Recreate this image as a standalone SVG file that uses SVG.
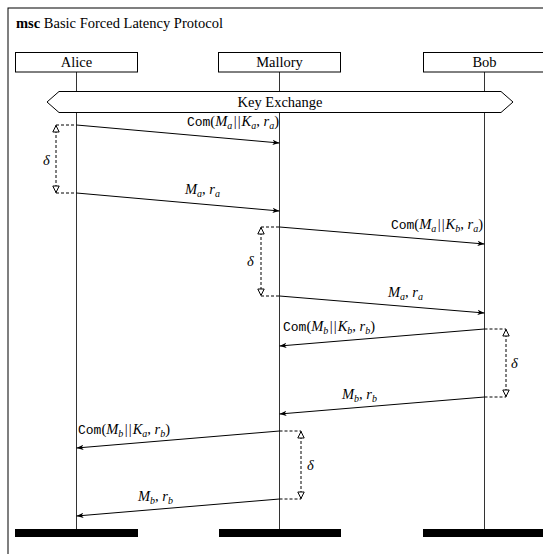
<svg xmlns="http://www.w3.org/2000/svg" width="543" height="554" viewBox="0 0 543 554">
<defs>
<style>
text{font-family:"Liberation Serif","DejaVu Serif",serif;font-size:14.5px;fill:#000}
.tt{font-family:"Liberation Mono","DejaVu Sans Mono",monospace;font-size:13px}
.it{font-style:italic}
.sub{font-style:italic;font-size:10px}
.bars{letter-spacing:1px}
.box{fill:#fff;stroke:#000;stroke-width:1}
.life{stroke:#333;stroke-width:1;fill:none}
.msg{stroke:#000;stroke-width:1;fill:none;marker-end:url(#ah)}
.dash{stroke:#000;stroke-width:1;fill:none;stroke-dasharray:3 2}
.delta{stroke:#000;stroke-width:1;fill:none;stroke-dasharray:3 2;marker-start:url(#tri);marker-end:url(#tri)}
.bar{fill:#000}
</style>
<marker id="ah" markerUnits="userSpaceOnUse" viewBox="0 -3 7 6" refX="7" refY="0" markerWidth="7" markerHeight="6" orient="auto">
<path d="M0,-2.6 L7,0 L0,2.6 L1.8,0 Z" fill="#000"/>
</marker>
<marker id="tri" markerUnits="userSpaceOnUse" viewBox="-1 -4.5 9 9" refX="7" refY="0" markerWidth="9" markerHeight="9" orient="auto-start-reverse">
<path d="M0,-3.2 L6.5,0 L0,3.2 Z" fill="#fff" stroke="#000" stroke-width="1"/>
</marker>
</defs>
<rect x="8" y="8" width="600" height="600" fill="#fff" stroke="#000" stroke-width="1"/>
<text x="16" y="28"><tspan font-weight="bold">msc</tspan> Basic Forced Latency Protocol</text>

<g id="lifelines">
<line class="life" x1="76.5" y1="72" x2="76.5" y2="529"/>
<line class="life" x1="279.5" y1="72" x2="279.5" y2="529"/>
<line class="life" x1="484.5" y1="72" x2="484.5" y2="529"/>
</g>

<g id="alice">
<rect class="box" x="15.5" y="52.5" width="122" height="19.5"/>
<text x="76.5" y="67" text-anchor="middle">Alice</text>
<rect class="bar" x="15" y="529" width="123" height="8"/>
</g>
<g id="mallory">
<rect class="box" x="218.5" y="52.5" width="122" height="19.5"/>
<text x="279.5" y="67" text-anchor="middle">Mallory</text>
<rect class="bar" x="219" y="529" width="122" height="8"/>
</g>
<g id="bob">
<rect class="box" x="423.5" y="52.5" width="122" height="19.5"/>
<text x="484.5" y="67" text-anchor="middle">Bob</text>
<rect class="bar" x="423" y="529" width="130" height="8"/>
</g>

<g id="keyexchange">
<polygon class="box" points="47,102 59,91.5 501,91.5 513,102 501,112.5 59,112.5"/>
<text x="280" y="107" text-anchor="middle">Key Exchange</text>
</g>

<g id="connectors">
<line class="msg" x1="76.5" y1="125" x2="279.5" y2="143"/>
<line class="msg" x1="76.5" y1="193" x2="279.5" y2="211"/>
<line class="msg" x1="279.5" y1="227" x2="484.5" y2="244"/>
<line class="msg" x1="279.5" y1="296" x2="484.5" y2="313"/>
<line class="msg" x1="484.5" y1="329" x2="279.5" y2="346"/>
<line class="msg" x1="484.5" y1="397" x2="279.5" y2="414"/>
<line class="msg" x1="279.5" y1="431" x2="76.5" y2="448"/>
<line class="msg" x1="279.5" y1="499" x2="76.5" y2="516"/>

<line class="dash" x1="56" y1="125" x2="76.5" y2="125"/>
<line class="dash" x1="56" y1="193" x2="76.5" y2="193"/>
<line class="delta" x1="56" y1="125" x2="56" y2="193"/>

<line class="dash" x1="261" y1="227" x2="279.5" y2="227"/>
<line class="dash" x1="261" y1="296" x2="279.5" y2="296"/>
<line class="delta" x1="261" y1="227" x2="261" y2="296"/>

<line class="dash" x1="484.5" y1="329" x2="506" y2="329"/>
<line class="dash" x1="484.5" y1="397" x2="506" y2="397"/>
<line class="delta" x1="506" y1="329" x2="506" y2="397"/>

<line class="dash" x1="279.5" y1="431" x2="301" y2="431"/>
<line class="dash" x1="279.5" y1="499" x2="301" y2="499"/>
<line class="delta" x1="301" y1="431" x2="301" y2="499"/>
</g>

<g id="labels">
<text x="279" y="126" text-anchor="end"><tspan class="tt">Com</tspan>(<tspan class="it">M</tspan><tspan class="sub" dy="3">a</tspan><tspan class="bars" dx="1.5" dy="-3">||</tspan><tspan class="it">K</tspan><tspan class="sub" dy="3">a</tspan><tspan dy="-3">, </tspan><tspan class="it">r</tspan><tspan class="sub" dy="3">a</tspan><tspan dy="-3">)</tspan></text>
<text x="185" y="194"><tspan class="it">M</tspan><tspan class="sub" dy="3">a</tspan><tspan dy="-3">, </tspan><tspan class="it">r</tspan><tspan class="sub" dy="3">a</tspan></text>
<text x="483" y="229" text-anchor="end"><tspan class="tt">Com</tspan>(<tspan class="it">M</tspan><tspan class="sub" dy="3">a</tspan><tspan class="bars" dx="1.5" dy="-3">||</tspan><tspan class="it">K</tspan><tspan class="sub" dy="3">b</tspan><tspan dy="-3">, </tspan><tspan class="it">r</tspan><tspan class="sub" dy="3">a</tspan><tspan dy="-3">)</tspan></text>
<text x="388" y="297"><tspan class="it">M</tspan><tspan class="sub" dy="3">a</tspan><tspan dy="-3">, </tspan><tspan class="it">r</tspan><tspan class="sub" dy="3">a</tspan></text>
<text x="283" y="331"><tspan class="tt">Com</tspan>(<tspan class="it">M</tspan><tspan class="sub" dy="3">b</tspan><tspan class="bars" dx="1.5" dy="-3">||</tspan><tspan class="it">K</tspan><tspan class="sub" dy="3">b</tspan><tspan dy="-3">, </tspan><tspan class="it">r</tspan><tspan class="sub" dy="3">b</tspan><tspan dy="-3">)</tspan></text>
<text x="342" y="399"><tspan class="it">M</tspan><tspan class="sub" dy="3">b</tspan><tspan dy="-3">, </tspan><tspan class="it">r</tspan><tspan class="sub" dy="3">b</tspan></text>
<text x="78" y="434"><tspan class="tt">Com</tspan>(<tspan class="it">M</tspan><tspan class="sub" dy="3">b</tspan><tspan class="bars" dx="1.5" dy="-3">||</tspan><tspan class="it">K</tspan><tspan class="sub" dy="3">a</tspan><tspan dy="-3">, </tspan><tspan class="it">r</tspan><tspan class="sub" dy="3">b</tspan><tspan dy="-3">)</tspan></text>
<text x="138" y="501"><tspan class="it">M</tspan><tspan class="sub" dy="3">b</tspan><tspan dy="-3">, </tspan><tspan class="it">r</tspan><tspan class="sub" dy="3">b</tspan></text>
<text class="it" x="43" y="165">δ</text>
<text class="it" x="247" y="266">δ</text>
<text class="it" x="511" y="368">δ</text>
<text class="it" x="307" y="470">δ</text>
</g>
</svg>
